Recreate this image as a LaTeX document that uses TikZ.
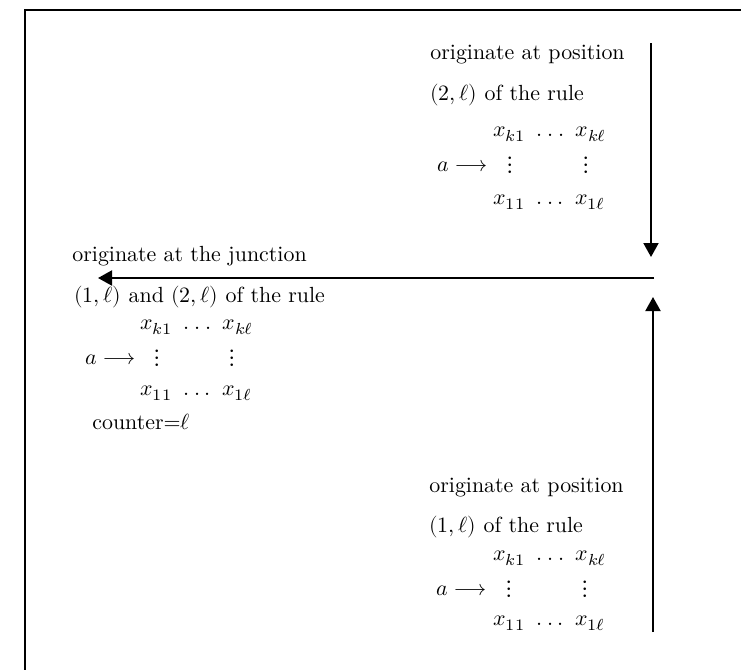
\documentclass[tikz,border=0pt]{standalone}
\usepackage{unicode-math}
\usetikzlibrary{arrows.meta}
\newcommand\rowdots{\mathinner{.\mkern4mu.\mkern4mu.}}
\begin{document}
\begin{tikzpicture}[x=0.5pt,y=-0.5pt,
  txt/.style={anchor=west,inner sep=0pt,font=\fontsize{10.95}{13.6}\selectfont},
  dts/.style={anchor=center,inner sep=0pt,font=\fontsize{12.5}{15}\selectfont},
  bigarrow/.style={line width=1pt,-{Triangle[length=7pt,width=7.5pt]}},
  framerule/.style={line width=0.9pt}]
\useasboundingbox (0,0) rectangle (741,670);
% partial frame
\coordinate (fTL) at (25,10);
\coordinate (fTR) at (741,10);
\coordinate (fBL) at (25,670);
\draw[framerule] (fTR) -- (fTL) -- (fBL);

% top block
\node[txt] (t1) at (430,55) {originate at position};
\node[txt] (t2) at (430,95) {$(2,\ell)$ of the rule};
\node[txt] (t3) at (493,134) {$x_{k1}\ \rowdots\ x_{k\ell}$};
\node[txt] (t4) at (437,166) {$a\longrightarrow$};
\node[dts] (t5) at (510,165) {$\vdots$};
\node[dts] (t6) at (586,165) {$\vdots$};
\node[txt] (t7) at (493,202) {$x_{11}\ \rowdots\ x_{1\ell}$};

% middle block
\node[txt] (m1) at (72,256) {originate at the junction};
\node[txt] (m2) at (74,297) {$(1,\ell)$ and $(2,\ell)$ of the rule};
\node[txt] (m3) at (140,327) {$x_{k1}\ \rowdots\ x_{k\ell}$};
\node[txt] (m4) at (85,359) {$a\longrightarrow$};
\node[dts] (m5) at (157,358) {$\vdots$};
\node[dts] (m6) at (232,358) {$\vdots$};
\node[txt] (m7) at (140,393) {$x_{11}\ \rowdots\ x_{1\ell}$};
\node[txt] (m8) at (92,422) {counter=$\ell$};

% bottom block
\node[txt] (b1) at (429,488) {originate at position};
\node[txt] (b2) at (429,527) {$(1,\ell)$ of the rule};
\node[txt] (b3) at (493,558) {$x_{k1}\ \rowdots\ x_{k\ell}$};
\node[txt] (b4) at (436,590) {$a\longrightarrow$};
\node[dts] (b5) at (509,589) {$\vdots$};
\node[dts] (b6) at (585,589) {$\vdots$};
\node[txt] (b7) at (493,623) {$x_{11}\ \rowdots\ x_{1\ell}$};

% arrows
\coordinate (dS) at (651,43);
\coordinate (dE) at (651,257);
\coordinate (hS) at (654,278);
\coordinate (hE) at (98,278);
\coordinate (uS) at (653,632);
\coordinate (uE) at (653,297);
\draw[bigarrow] (dS) -- (dE);
\draw[bigarrow] (hS) -- (hE);
\draw[bigarrow] (uS) -- (uE);
\end{tikzpicture}
\end{document}
